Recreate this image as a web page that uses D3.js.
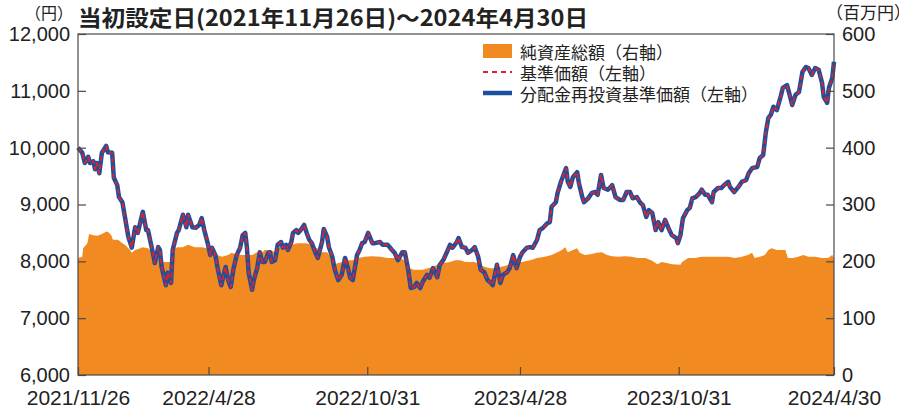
<!DOCTYPE html>
<html>
<head>
<meta charset="utf-8">
<script src="https://cdn.jsdelivr.net/npm/d3@7"></script>
<style>
  body { margin: 0; background: #fff; }
  svg { display: block; }
</style>
</head>
<body>
<svg id="chart" width="899" height="410"></svg>
<script>
// 基準価額（円）— 分配実績がないため分配金再投資基準価額と同じ値になる
const priceDates = [
  "2021-11-26","2021-12-01","2021-12-04","2021-12-08","2021-12-10","2021-12-14","2021-12-16","2021-12-18","2021-12-21","2021-12-24","2021-12-29","2021-12-31",
  "2022-01-05","2022-01-07","2022-01-11","2022-01-13","2022-01-17","2022-01-20","2022-01-24","2022-01-28",
  "2022-02-01","2022-02-04","2022-02-10","2022-02-14","2022-02-16","2022-02-21","2022-02-24","2022-02-28","2022-03-02","2022-03-04",
  "2022-03-09","2022-03-11","2022-03-15","2022-03-17","2022-03-22","2022-03-24","2022-03-29","2022-04-02","2022-04-04","2022-04-09",
  "2022-04-13","2022-04-17","2022-04-20","2022-04-23","2022-04-27","2022-04-30","2022-05-02","2022-05-06","2022-05-09","2022-05-13",
  "2022-05-15","2022-05-18","2022-05-21","2022-05-24","2022-05-27","2022-05-31","2022-06-04","2022-06-07","2022-06-10","2022-06-12",
  "2022-06-14","2022-06-18","2022-06-20","2022-06-24","2022-06-27","2022-06-30","2022-07-03","2022-07-07","2022-07-09","2022-07-11",
  "2022-07-15","2022-07-18","2022-07-22","2022-07-24","2022-07-28","2022-07-30","2022-08-03","2022-08-05","2022-08-09","2022-08-11",
  "2022-08-14","2022-08-18","2022-08-21","2022-08-24","2022-08-27","2022-08-31","2022-09-03","2022-09-08","2022-09-10","2022-09-14",
  "2022-09-16","2022-09-20","2022-09-23","2022-09-27","2022-10-01","2022-10-05","2022-10-08","2022-10-11","2022-10-14","2022-10-19",
  "2022-10-22","2022-10-25","2022-10-28","2022-11-01","2022-11-06","2022-11-09","2022-11-15","2022-11-18","2022-11-24","2022-11-29",
  "2022-12-02","2022-12-06","2022-12-11","2022-12-14","2022-12-18","2022-12-21","2022-12-25","2022-12-28","2023-01-01","2023-01-04",
  "2023-01-09","2023-01-12","2023-01-16","2023-01-21","2023-01-24","2023-01-28","2023-02-01","2023-02-05","2023-02-08","2023-02-13",
  "2023-02-15","2023-02-19","2023-02-23","2023-02-26","2023-03-03","2023-03-06","2023-03-10","2023-03-13","2023-03-17","2023-03-21",
  "2023-03-25","2023-03-27","2023-04-01","2023-04-05","2023-04-08","2023-04-13","2023-04-16","2023-04-20","2023-04-24","2023-04-28",
  "2023-05-01","2023-05-06","2023-05-10","2023-05-13","2023-05-18","2023-05-21","2023-05-25","2023-05-30","2023-06-02","2023-06-04",
  "2023-06-09","2023-06-11","2023-06-15","2023-06-17","2023-06-21","2023-06-23","2023-06-26","2023-06-29","2023-07-04","2023-07-06",
  "2023-07-10","2023-07-12","2023-07-17","2023-07-21","2023-07-25","2023-07-28","2023-08-01","2023-08-04","2023-08-09","2023-08-14",
  "2023-08-18","2023-08-23","2023-08-27","2023-08-31","2023-09-04","2023-09-07","2023-09-12","2023-09-16","2023-09-19","2023-09-23",
  "2023-09-26","2023-09-30","2023-10-04","2023-10-07","2023-10-11","2023-10-15","2023-10-20","2023-10-23","2023-10-28","2023-10-30",
  "2023-11-02","2023-11-05","2023-11-10","2023-11-13","2023-11-16","2023-11-20","2023-11-24","2023-11-27","2023-12-01","2023-12-04",
  "2023-12-09","2023-12-11","2023-12-16","2023-12-20","2023-12-23","2023-12-28","2023-12-30","2024-01-04","2024-01-09","2024-01-13",
  "2024-01-18","2024-01-21","2024-01-25","2024-01-31","2024-02-03","2024-02-07","2024-02-10","2024-02-13","2024-02-16","2024-02-19",
  "2024-02-23","2024-02-27","2024-03-01","2024-03-06","2024-03-09","2024-03-12","2024-03-16","2024-03-20","2024-03-24","2024-03-28",
  "2024-03-31","2024-04-04","2024-04-08","2024-04-12","2024-04-16","2024-04-18","2024-04-22","2024-04-24","2024-04-28","2024-04-30"
];
const priceValues = [
  10000,9910,9730,9840,9730,9760,9620,9730,9550,9910,10030,9920,
  9910,9470,9340,9130,9040,8780,8430,8240,
  8600,8500,8870,8550,8550,8200,7970,8250,8200,7900,
  7580,7800,7620,8200,8500,8550,8820,8600,8820,8600,
  8590,8640,8760,8550,8320,8110,8240,8110,7850,7580,
  7720,7900,7670,7550,7850,8110,8240,8460,8500,8240,
  7800,7500,7670,7880,8160,7990,7990,8150,8160,7990,
  8020,8290,8340,8240,8290,8200,8340,8500,8550,8500,
  8550,8640,8500,8380,8320,8160,8060,8340,8570,8430,
  8250,8080,7850,7670,7760,8060,7900,7710,7670,8110,
  8200,8320,8340,8500,8320,8320,8340,8290,8290,8200,
  8150,8020,8160,8160,7850,7530,7550,7620,7530,7640,
  7760,7710,7880,7720,7940,8020,8150,8290,8240,8340,
  8410,8250,8240,8150,8200,8250,8080,7850,7810,7670,
  7620,7580,7940,7620,7760,7810,7880,8110,7880,8080,
  8160,8240,8250,8240,8380,8550,8590,8670,8690,8960,
  9040,9200,9400,9480,9640,9400,9310,9480,9570,9380,
  9130,9040,9110,9200,9220,9170,9520,9290,9260,9340,
  9130,9080,9080,9220,9220,9110,9130,9030,8990,8780,
  8900,8850,8550,8690,8550,8730,8550,8460,8410,8320,
  8460,8760,8900,8940,9110,9130,9190,9260,9170,9170,
  9040,9220,9290,9290,9340,9400,9310,9220,9310,9400,
  9430,9550,9640,9660,9820,9870,10260,10520,10580,10720,
  10660,10870,11050,11100,10930,10750,10930,10980,11330,11420,
  11400,11280,11400,11370,11140,10890,10790,11050,11230,11510
];
// 分配金再投資基準価額（円）
const reinvestValues = priceValues.slice();

// 純資産総額（百万円）
const assetDates = [
  "2021-11-26","2021-12-01","2021-12-02","2021-12-07","2021-12-09","2021-12-14","2021-12-19","2021-12-24","2021-12-29","2021-12-31",
  "2022-01-04","2022-01-06","2022-01-12","2022-01-17","2022-01-20","2022-01-26","2022-01-28","2022-02-01","2022-02-07","2022-02-10",
  "2022-02-16","2022-02-21","2022-02-24","2022-03-02","2022-03-06","2022-03-11","2022-03-16","2022-03-20","2022-03-23","2022-03-29",
  "2022-04-04","2022-04-12","2022-04-20","2022-04-26","2022-05-02","2022-05-08","2022-05-14","2022-05-21","2022-05-25","2022-06-02",
  "2022-06-10","2022-06-18","2022-06-24","2022-06-30","2022-07-03","2022-07-09","2022-07-15","2022-07-21","2022-07-27","2022-08-04",
  "2022-08-10","2022-08-16","2022-08-21","2022-08-27","2022-09-02","2022-09-08","2022-09-14","2022-09-19","2022-09-23","2022-09-27",
  "2022-10-03","2022-10-08","2022-10-14","2022-10-20","2022-10-28","2022-11-06","2022-11-15","2022-11-24","2022-12-02","2022-12-11",
  "2022-12-17","2022-12-20","2022-12-24","2022-12-29","2023-01-04","2023-01-10","2023-01-16","2023-01-22","2023-01-28","2023-02-05",
  "2023-02-11","2023-02-17","2023-02-23","2023-02-28","2023-03-06","2023-03-12","2023-03-18","2023-03-24","2023-03-30","2023-04-05",
  "2023-04-10","2023-04-16","2023-04-22","2023-04-30","2023-05-10","2023-05-18","2023-05-27","2023-06-04","2023-06-11","2023-06-16",
  "2023-06-20","2023-06-23","2023-06-29","2023-07-04","2023-07-07","2023-07-13","2023-07-21","2023-07-27","2023-08-02","2023-08-08",
  "2023-08-14","2023-08-21","2023-08-29","2023-09-06","2023-09-13","2023-09-22","2023-09-30","2023-10-06","2023-10-11","2023-10-17",
  "2023-10-23","2023-11-02","2023-11-04","2023-11-11","2023-11-19","2023-11-27","2023-12-04","2023-12-13","2023-12-21","2023-12-28",
  "2024-01-05","2024-01-13","2024-01-20","2024-01-25","2024-01-28","2024-02-03","2024-02-09","2024-02-13","2024-02-17","2024-02-23",
  "2024-02-29","2024-03-04","2024-03-07","2024-03-13","2024-03-19","2024-03-25","2024-03-31","2024-04-08","2024-04-16","2024-04-23",
  "2024-04-28","2024-04-30"
];
const assetValues = [
  206,208,223,232,248,246,245,248,252,252,
  246,238,238,232,229,220,215,220,223,225,
  223,216,215,206,199,199,199,223,225,225,
  229,225,225,223,216,211,208,211,215,211,
  211,211,216,216,220,220,216,225,225,229,
  232,232,232,229,223,216,216,206,195,197,
  199,202,202,206,208,209,208,206,206,204,
  197,188,185,185,185,188,190,195,197,199,
  202,202,199,199,199,194,190,188,188,190,
  192,195,197,199,202,206,208,211,216,220,
  225,216,220,223,215,211,213,215,216,211,
  209,208,209,208,206,206,201,195,199,197,
  195,194,199,206,206,208,208,208,208,208,
  206,208,211,215,206,208,211,220,223,220,
  220,220,206,206,208,211,208,208,206,206,
  211,204
];

const leftTicks = [6000, 7000, 8000, 9000, 10000, 11000, 12000];
const rightTicks = [0, 100, 200, 300, 400, 500, 600];
const xTickDates = ["2021-11-26", "2022-04-28", "2022-10-31", "2023-04-28", "2023-10-31", "2024-04-30"];
const xTickLabels = ["2021/11/26", "2022/4/28", "2022/10/31", "2023/4/28", "2023/10/31", "2024/4/30"];
const legendLabels = ["純資産総額（右軸）", "基準価額（左軸）", "分配金再投資基準価額（左軸）"];
const titleText = "当初設定日(2021年11月26日)～2024年4月30日";

const COLORS = { asset: "#f28a22", price: "#d4262e", reinvest: "#1c4fa0", axis: "#4a4a4a", text: "#222" };
const NUM_FONT = "'Liberation Sans', Arial, sans-serif";
const JP_FONT = "'Noto Sans CJK JP', 'Noto Sans', sans-serif";

const parse = d3.timeParse("%Y-%m-%d");
const svg = d3.select("#chart");
const plot = { left: 78, right: 834, top: 34, bottom: 375 };

const x = d3.scaleTime()
  .domain([parse(xTickDates[0]), parse(xTickDates[xTickDates.length - 1])])
  .range([plot.left, plot.right]);
const yL = d3.scaleLinear().domain([6000, 12000]).range([plot.bottom, plot.top]);
const yR = d3.scaleLinear().domain([0, 600]).range([plot.bottom, plot.top]);

const assets = assetDates.map((d, i) => ({ date: parse(d), v: assetValues[i] }));
const prices = priceDates.map((d, i) => ({ date: parse(d), v: priceValues[i] }));
const reinvest = priceDates.map((d, i) => ({ date: parse(d), v: reinvestValues[i] }));

// net assets area (right axis)
svg.append("path")
  .datum(assets)
  .attr("fill", COLORS.asset)
  .attr("d", d3.area().x(d => x(d.date)).y0(yR(0)).y1(d => yR(d.v)));

// reinvested NAV (solid blue) and NAV (red dashes) on the left axis
const priceLine = d3.line().x(d => x(d.date)).y(d => yL(d.v));
svg.append("path").datum(reinvest)
  .attr("fill", "none").attr("stroke", COLORS.reinvest)
  .attr("stroke-width", 4.5).attr("stroke-linejoin", "round")
  .attr("d", priceLine);
svg.append("path").datum(prices)
  .attr("fill", "none").attr("stroke", COLORS.price)
  .attr("stroke-width", 2).attr("stroke-dasharray", "5,3")
  .attr("stroke-linejoin", "round")
  .attr("d", priceLine);

// frame
svg.append("rect")
  .attr("x", plot.left).attr("y", plot.top)
  .attr("width", plot.right - plot.left).attr("height", plot.bottom - plot.top)
  .attr("fill", "none").attr("stroke", COLORS.axis).attr("stroke-width", 1.2);

function styleAxis(size) {
  return g => {
    g.select(".domain").remove();
    g.selectAll(".tick line").attr("stroke", COLORS.axis).attr("stroke-width", 1.2);
    g.selectAll(".tick text").attr("fill", COLORS.text)
      .style("font-family", NUM_FONT).style("font-size", size + "px");
  };
}

svg.append("g").attr("transform", `translate(${plot.left},0)`)
  .call(d3.axisLeft(yL).tickValues(leftTicks).tickFormat(d3.format(",")).tickSize(-8).tickPadding(8))
  .call(styleAxis(20));

svg.append("g").attr("transform", `translate(${plot.right},0)`)
  .call(d3.axisRight(yR).tickValues(rightTicks).tickFormat(d3.format("d")).tickSize(-8).tickPadding(8))
  .call(styleAxis(20));

svg.append("g").attr("transform", `translate(0,${plot.bottom})`)
  .call(d3.axisBottom(x).tickValues(xTickDates.map(parse))
    .tickFormat((d, i) => xTickLabels[i]).tickSize(-8).tickPadding(15))
  .call(styleAxis(21));

// title and unit labels
svg.append("text")
  .attr("x", 78).attr("y", 26)
  .attr("textLength", 510).attr("lengthAdjust", "spacingAndGlyphs")
  .style("font-family", JP_FONT).style("font-weight", 700).style("font-size", "22px")
  .attr("fill", COLORS.text).text(titleText);

svg.append("text").attr("x", 73).attr("y", 19).attr("text-anchor", "end")
  .style("font-family", JP_FONT).style("font-size", "16px").attr("fill", COLORS.text)
  .text("（円）");
svg.append("text").attr("x", 826).attr("y", 19)
  .style("font-family", JP_FONT).style("font-size", "17px").attr("fill", COLORS.text)
  .text("（百万円）");

// legend
const legend = svg.append("g").attr("transform", "translate(483,0)");
const rowsY = [51, 72, 93];
legend.append("rect").attr("x", 0).attr("y", rowsY[0] - 7).attr("width", 29).attr("height", 14)
  .attr("fill", COLORS.asset);
legend.append("line").attr("x1", 0).attr("x2", 29).attr("y1", rowsY[1]).attr("y2", rowsY[1])
  .attr("stroke", COLORS.price).attr("stroke-width", 2).attr("stroke-dasharray", "5,4");
legend.append("line").attr("x1", 0).attr("x2", 29).attr("y1", rowsY[2]).attr("y2", rowsY[2])
  .attr("stroke", COLORS.reinvest).attr("stroke-width", 4.5);
legend.selectAll("text.leg").data(legendLabels).join("text")
  .attr("class", "leg")
  .attr("x", 37).attr("y", (d, i) => rowsY[i])
  .attr("dominant-baseline", "central")
  .style("font-family", JP_FONT).style("font-size", "17px").attr("fill", COLORS.text)
  .text(d => d);
</script>
</body>
</html>
